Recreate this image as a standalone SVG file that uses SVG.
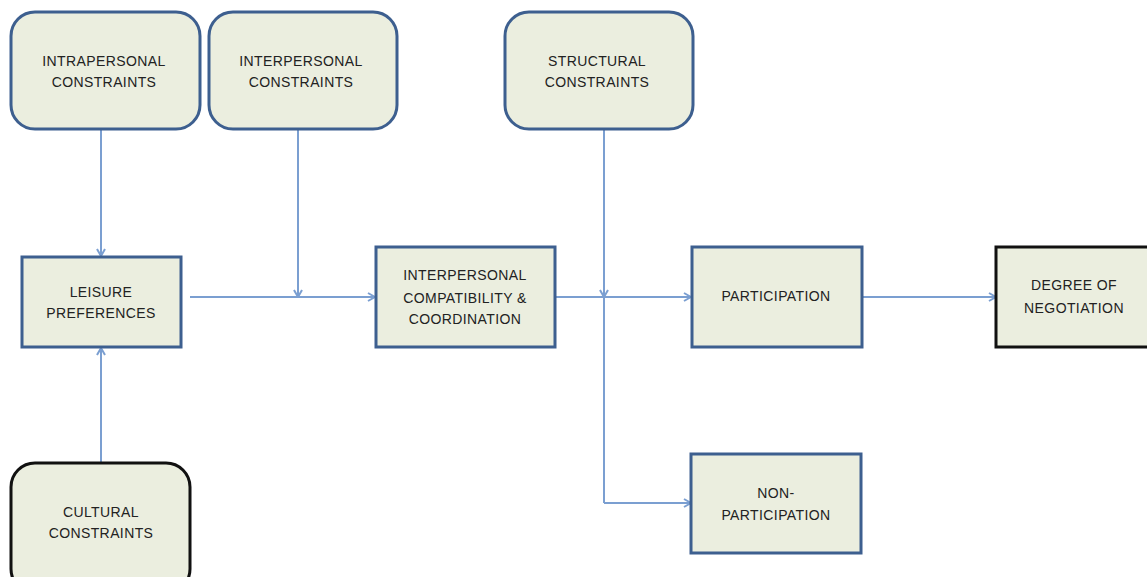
<svg xmlns="http://www.w3.org/2000/svg" width="1147" height="577" viewBox="0 0 1147 577">
<style>
.box{fill:#ebeedf;stroke:#3d5f8f;stroke-width:3}
.blk{fill:#ebeedf;stroke:#111;stroke-width:3}
.t{font-family:"Liberation Sans",Arial,sans-serif;font-size:14px;fill:#222;text-anchor:middle;letter-spacing:0.4px}
.c{fill:none;stroke:#7b9fd1;stroke-width:2}
</style>
<defs>
<marker id="ah" viewBox="0 0 10 10" refX="9" refY="5" markerWidth="10" markerHeight="10" markerUnits="userSpaceOnUse" orient="auto">
<polyline points="2,1 9,5 2,9" fill="none" stroke="#7b9fd1" stroke-width="2"/>
</marker>
</defs>
<rect width="1147" height="577" fill="#fff"/>
<g id="connectors">
<line class="c" x1="101" y1="130" x2="101" y2="256" marker-end="url(#ah)"/>
<line class="c" x1="101" y1="463" x2="101" y2="348" marker-end="url(#ah)"/>
<line class="c" x1="298" y1="130" x2="298" y2="297" marker-end="url(#ah)"/>
<line class="c" x1="190" y1="297" x2="375" y2="297" marker-end="url(#ah)"/>
<line class="c" x1="604" y1="130" x2="604" y2="297" marker-end="url(#ah)"/>
<line class="c" x1="604" y1="297" x2="604" y2="503"/>
<line class="c" x1="556" y1="297" x2="691" y2="297" marker-end="url(#ah)"/>
<polyline class="c" points="604,503 691,503" marker-end="url(#ah)"/>
<line class="c" x1="863" y1="297" x2="996" y2="297" marker-end="url(#ah)"/>
</g>
<g id="intrapersonal">
<rect class="box" x="11" y="12" width="189" height="117" rx="24"/>
<text class="t" x="104" y="66">INTRAPERSONAL</text>
<text class="t" x="104" y="87">CONSTRAINTS</text>
</g>
<g id="interpersonal">
<rect class="box" x="209" y="12" width="188" height="117" rx="24"/>
<text class="t" x="301" y="66">INTERPERSONAL</text>
<text class="t" x="301" y="87">CONSTRAINTS</text>
</g>
<g id="structural">
<rect class="box" x="505" y="12" width="188" height="117" rx="24"/>
<text class="t" x="597" y="66">STRUCTURAL</text>
<text class="t" x="597" y="87">CONSTRAINTS</text>
</g>
<g id="leisure">
<rect class="box" x="22" y="257" width="159" height="90"/>
<text class="t" x="101" y="297">LEISURE</text>
<text class="t" x="101" y="318">PREFERENCES</text>
</g>
<g id="compatibility">
<rect class="box" x="376" y="247" width="179" height="100"/>
<text class="t" x="465" y="280">INTERPERSONAL</text>
<text class="t" x="465" y="303">COMPATIBILITY &amp;</text>
<text class="t" x="465" y="324">COORDINATION</text>
</g>
<g id="participation">
<rect class="box" x="692" y="247" width="170" height="100"/>
<text class="t" x="776" y="301">PARTICIPATION</text>
</g>
<g id="negotiation">
<rect class="blk" x="996" y="247" width="155" height="100"/>
<text class="t" x="1074" y="290">DEGREE OF</text>
<text class="t" x="1074" y="313">NEGOTIATION</text>
</g>
<g id="nonparticipation">
<rect class="box" x="691" y="454" width="170" height="99"/>
<text class="t" x="776" y="498">NON-</text>
<text class="t" x="776" y="520">PARTICIPATION</text>
</g>
<g id="cultural">
<rect class="blk" x="11" y="463" width="179" height="130" rx="24"/>
<text class="t" x="101" y="517">CULTURAL</text>
<text class="t" x="101" y="538">CONSTRAINTS</text>
</g>
</svg>
